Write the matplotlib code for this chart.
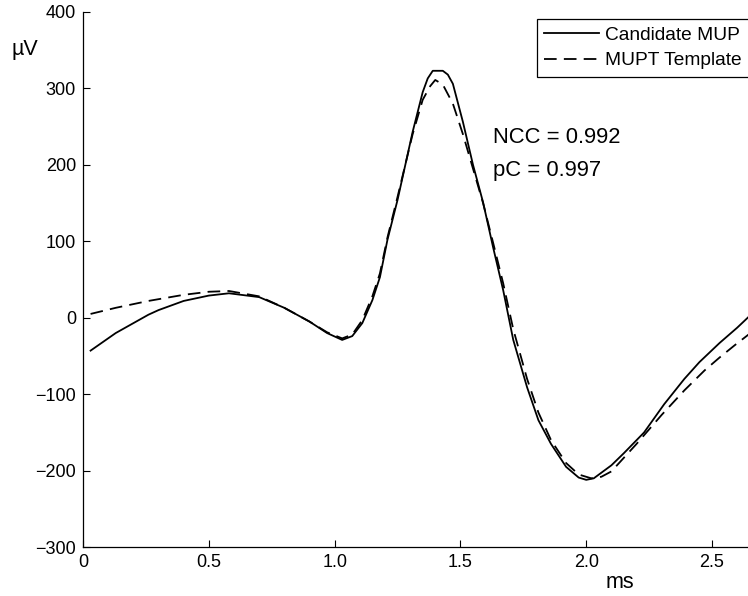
import matplotlib
matplotlib.use("Agg")
import matplotlib.pyplot as plt

plt.rcParams['font.family'] = ['Liberation Sans', 'DejaVu Sans']

# candidate MUP (solid)
t_cand = [0.03, 0.13, 0.26, 0.30, 0.40, 0.50, 0.58, 0.70, 0.80, 0.90, 0.97,
          1.03, 1.07, 1.11, 1.15, 1.18, 1.21, 1.25, 1.31, 1.35, 1.37, 1.39,
          1.43, 1.45, 1.47, 1.51, 1.55, 1.59, 1.63, 1.67, 1.71, 1.765, 1.81,
          1.86, 1.92, 1.97, 2.00, 2.03, 2.10, 2.15, 2.23, 2.31, 2.39, 2.45,
          2.53, 2.60, 2.645]
v_cand = [-43, -20, 4, 10, 22, 29, 32, 27, 13, -5, -20,
          -29, -24, -7, 23, 53, 102, 154, 243, 295, 313, 323,
          323, 318, 306, 256, 200, 151, 92, 36, -29, -91, -134,
          -165, -195, -209, -212, -210, -193, -177, -150, -113, -80, -58,
          -33, -13, 1]

# MUPT template (dashed)
t_tmpl = [0.03, 0.13, 0.26, 0.40, 0.50, 0.58, 0.70, 0.80, 0.90, 0.97,
          1.03, 1.07, 1.11, 1.15, 1.18, 1.21, 1.25, 1.31, 1.35, 1.38, 1.40,
          1.43, 1.47, 1.51, 1.55, 1.59, 1.63, 1.67, 1.71, 1.765, 1.81, 1.86,
          1.92, 1.97, 2.02, 2.06, 2.10, 2.20, 2.30, 2.39, 2.47, 2.53, 2.59,
          2.645]
v_tmpl = [5, 13, 22, 30, 34, 35, 28, 13, -5, -19,
          -27, -22, -3, 28, 58, 105, 158, 240, 285, 303, 311,
          305, 280, 240, 195, 150, 98, 45, -15, -80, -124, -160,
          -190, -205, -210, -208, -201, -165, -127, -95, -69, -52, -36,
          -22]

x_ticks = [0, 0.5, 1.0, 1.5, 2.0, 2.5]
x_ticklabels = ['0', '0.5', '1.0', '1.5', '2.0', '2.5']
y_ticks = [-300, -200, -100, 0, 100, 200, 300, 400]

fig = plt.figure(figsize=(7.48, 5.96), dpi=100)
ax = fig.add_axes([0.111, 0.082, 0.889, 0.898])

ax.plot(t_cand, v_cand, color='black', lw=1.3, label='Candidate MUP')
ax.plot(t_tmpl, v_tmpl, color='black', lw=1.3, dashes=(7, 4), label='MUPT Template')

ax.set_xlim(0, 2.643)
ax.set_ylim(-300, 400)
ax.set_xticks(x_ticks)
ax.set_xticklabels(x_ticklabels)
ax.set_yticks(y_ticks)
ax.tick_params(direction='in', length=5, width=0.8, labelsize=13, pad=5)

for s in ['top', 'right']:
    ax.spines[s].set_visible(False)
for s in ['left', 'bottom']:
    ax.spines[s].set_linewidth(0.9)

ax.set_xlabel('ms', fontsize=15.5, va='center')
ax.xaxis.set_label_coords(0.807, -0.067)
ax.set_ylabel('µV', fontsize=15.5, rotation=0, va='center', ha='center')
ax.yaxis.set_label_coords(-0.087, 0.93)

ax.text(1.63, 236, 'NCC = 0.992', fontsize=15.8, va='center')
ax.text(1.63, 193, 'pC = 0.997', fontsize=15.8, va='center')

leg = ax.legend(loc='upper left', bbox_to_anchor=(0.6827, 0.987), fontsize=13.8,
                fancybox=False, framealpha=1, edgecolor='black',
                handlelength=2.86, handletextpad=0.31, borderpad=0.39,
                labelspacing=0.42, borderaxespad=0)
leg.get_frame().set_linewidth(0.9)

fig.savefig('out.png', dpi=100)
